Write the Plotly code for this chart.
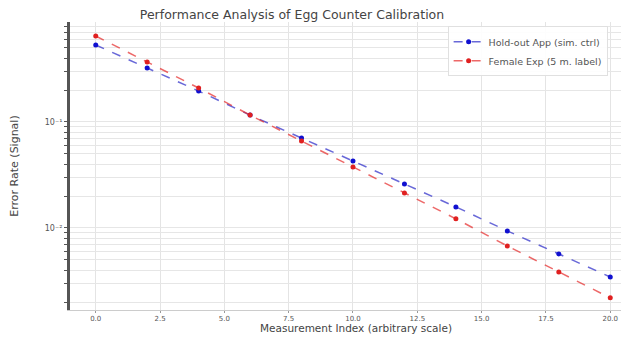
import plotly.graph_objects as go

x_vals = [0, 2, 4, 6, 8, 10, 12, 14, 16, 18, 20]
blue_vals = [0.532, 0.323, 0.196, 0.116, 0.0707, 0.0428, 0.026, 0.0158, 0.00937, 0.00569, 0.00345]
red_vals = [0.647, 0.368, 0.209, 0.116, 0.0662, 0.0376, 0.0214, 0.0122, 0.00676, 0.00385, 0.00219]
blue_name = "Hold-out App (sim. ctrl)"
red_name = "Female Exp (5 m. label)"
x_ticks = [0, 2.5, 5, 7.5, 10, 12.5, 15, 17.5, 20]
x_tick_text = ["0.0", "2.5", "5.0", "7.5", "10.0", "12.5", "15.0", "17.5", "20.0"]
x_title = "Measurement Index (arbitrary scale)"
y_title = "Error Rate (Signal)"
chart_title = "Performance Analysis of Egg Counter Calibration"

# log ticks: majors labeled, minors unlabeled (grid only)
y_tick_vals = []
y_tick_text = []
for dec in [1e-3, 1e-2, 1e-1]:
    for m in range(1, 10):
        y_tick_vals.append(m * dec)
        if m == 1 and dec == 1e-1:
            y_tick_text.append("10⁻¹")
        elif m == 1 and dec == 1e-2:
            y_tick_text.append("10⁻²")
        else:
            y_tick_text.append("")

fig = go.Figure()
fig.add_trace(go.Scatter(
    x=x_vals, y=blue_vals, name=blue_name, mode="lines+markers",
    line=dict(color="rgba(40,40,200,0.7)", width=1.5, dash="dash"),
    marker=dict(color="#1010d0", size=5)))
fig.add_trace(go.Scatter(
    x=x_vals, y=red_vals, name=red_name, mode="lines+markers",
    line=dict(color="rgba(230,40,40,0.7)", width=1.5, dash="dash"),
    marker=dict(color="#e02020", size=5)))

H = 340
plot_top, plot_bottom = 14, 302
fig.update_layout(
    width=629, height=H,
    margin=dict(l=60, r=0, t=plot_top, b=H - plot_bottom),
    paper_bgcolor="white", plot_bgcolor="white",
    font=dict(family="DejaVu Sans", size=9, color="#444"),
    title=dict(text=chart_title,
               x=284 / 629, xanchor="center", y=1 - 7 / H, yanchor="middle",
               font=dict(size=12.5, color="#444")),
    legend=dict(x=0.666, xanchor="left", y=0.985, yanchor="top",
                bgcolor="rgba(255,255,255,0.9)", bordercolor="#e0e0e0", borderwidth=1,
                font=dict(size=9.5, color="#555"), tracegroupgap=0, itemwidth=30),
    showlegend=True,
    annotations=[dict(text=x_title, xref="paper", yref="paper",
                      x=0.504, y=-(320 - plot_bottom) / (plot_bottom - plot_top),
                      xanchor="center", yanchor="middle",
                      showarrow=False, font=dict(size=10.5, color="#444"))],
)
fig.update_xaxes(
    range=[-1, 21.04], tickvals=x_ticks, ticktext=x_tick_text,
    showgrid=True, gridcolor="#e4e4e4", gridwidth=1,
    showline=True, linecolor="#cccccc", linewidth=1,
    ticks="outside", ticklen=2, tickcolor="#999", zeroline=False,
    tickfont=dict(size=7, color="#555"),
)
fig.update_yaxes(
    type="log", range=[-2.774, -0.057],
    tickvals=y_tick_vals, ticktext=y_tick_text,
    showgrid=True, gridcolor="#e6e6e6", gridwidth=1,
    showline=True, linecolor="#555", linewidth=3,
    ticks="outside", ticklen=3, tickcolor="#555", zeroline=False,
    tickfont=dict(size=8, color="#555"),
    title=dict(text=y_title, font=dict(size=11, color="#444"), standoff=29),
)

fig.write_html("out.html")
